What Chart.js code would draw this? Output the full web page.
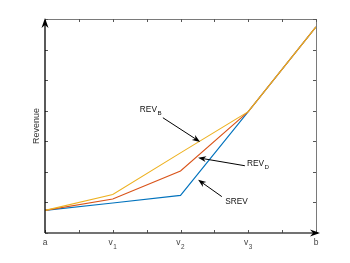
<!DOCTYPE html>
<html>
<head>
<meta charset="utf-8">
<script src="https://cdn.jsdelivr.net/npm/chart.js@4/dist/chart.umd.min.js"></script>
<style>
html,body{margin:0;padding:0;background:#fff;}
#wrap{width:350px;height:263px;position:relative;}
</style>
</head>
<body>
<div id="wrap"><canvas id="c" width="350" height="263"></canvas></div>
<script>
// categories (x positions) and tick labels
const xPositions = [0, 1, 2, 3, 4];
const xTickLabels = ['a', 'v1', 'v2', 'v3', 'b'];
// series values
const srev = [0.74, 0.98, 1.23, 3.97, 6.74];
const revD = [0.74, 1.11, 2.03, 3.97, 6.74];
const revB = [0.74, 1.26, 2.62, 3.97, 6.74];
const yTitle = 'Revenue';
// annotation labels (text, subscript) and anchors in data units
const annLabels = [['REV', 'B'], ['REV', 'D'], ['SREV', '']];
const annText = [[1.40, 4.03], [2.98, 2.26], [2.66, 1.02]];
const annTail = [[1.74, 3.77], [2.95, 2.20], [2.61, 1.19]];
const annHead = [[2.29, 2.98], [2.26, 2.46], [2.26, 1.74]];

const toPts = arr => xPositions.map((x, i) => ({x: x, y: arr[i]}));
const FONT = '"Liberation Sans", Arial, Helvetica, sans-serif';

function arrowHead(ctx, tx, ty, ang, len, wid) {
  ctx.save();
  ctx.translate(tx, ty);
  ctx.rotate(ang);
  ctx.beginPath();
  ctx.moveTo(0, 0);
  ctx.lineTo(-len, -wid / 2);
  ctx.lineTo(-len * 0.7, 0);
  ctx.lineTo(-len, wid / 2);
  ctx.closePath();
  ctx.fill();
  ctx.restore();
}

function drawSubText(ctx, base, sub, x, y, size, align, color) {
  ctx.save();
  ctx.fillStyle = color;
  ctx.textBaseline = 'middle';
  ctx.textAlign = 'left';
  ctx.font = size + 'px ' + FONT;
  const wb = ctx.measureText(base).width;
  ctx.font = (size * 0.75) + 'px ' + FONT;
  const ws = sub ? ctx.measureText(sub).width + 0.5 : 0;
  let x0 = x;
  if (align === 'center') x0 = x - (wb + ws) / 2;
  ctx.font = size + 'px ' + FONT;
  ctx.fillText(base, x0, y);
  if (sub) {
    ctx.font = (size * 0.75) + 'px ' + FONT;
    ctx.fillText(sub, x0 + wb + 0.5, y + size * 0.45);
  }
  ctx.restore();
}

const axesPlugin = {
  id: 'axesPlugin',
  beforeDatasetsDraw(chart) {
    const ctx = chart.ctx;
    const xs = chart.scales.x, ys = chart.scales.y;
    const a = chart.chartArea;
    ctx.save();
    // box top/right
    ctx.strokeStyle = '#7a7a7a';
    ctx.lineWidth = 1;
    ctx.beginPath();
    ctx.moveTo(a.left, a.top + 0.5);
    ctx.lineTo(a.right + 0.5, a.top + 0.5);
    ctx.lineTo(a.right + 0.5, a.bottom);
    ctx.stroke();
    // ticks
    ctx.strokeStyle = '#555';
    ctx.beginPath();
    for (let v = xs.min; v <= xs.max + 1e-9; v += 0.5) {
      const px = Math.round(xs.getPixelForValue(v)) + 0.5;
      ctx.moveTo(px, a.bottom); ctx.lineTo(px, a.bottom - 3);
      ctx.moveTo(px, a.top); ctx.lineTo(px, a.top + 3);
    }
    for (let v = ys.min; v <= ys.max + 1e-9; v += 1) {
      const py = Math.round(ys.getPixelForValue(v)) + 0.5;
      ctx.moveTo(a.left, py); ctx.lineTo(a.left + 3, py);
      ctx.moveTo(a.right, py); ctx.lineTo(a.right - 3, py);
    }
    ctx.stroke();
    ctx.restore();
  },
  afterDatasetsDraw(chart) {
    const ctx = chart.ctx;
    const xs = chart.scales.x, ys = chart.scales.y;
    const a = chart.chartArea;
    ctx.save();
    // bottom axis
    ctx.strokeStyle = '#444';
    ctx.lineWidth = 1.3;
    ctx.beginPath();
    ctx.moveTo(a.left, a.bottom);
    ctx.lineTo(a.right + 2, a.bottom);
    ctx.stroke();
    // left axis
    ctx.strokeStyle = '#000';
    ctx.lineWidth = 1.3;
    ctx.beginPath();
    ctx.moveTo(a.left, a.bottom);
    ctx.lineTo(a.left, a.top + 2);
    ctx.stroke();
    ctx.fillStyle = '#000';
    arrowHead(ctx, a.right + 4, a.bottom, 0, 10, 7);
    arrowHead(ctx, a.left, a.top - 1, -Math.PI / 2, 10, 7);

    // x tick labels
    xPositions.forEach((v, i) => {
      const lab = xTickLabels[i];
      const base = lab.charAt(0), sub = lab.slice(1);
      drawSubText(ctx, base, sub, xs.getPixelForValue(v), a.bottom + 10, 8.5, 'center', '#444');
    });

    // y title
    ctx.save();
    ctx.translate(a.left - 8, (a.top + a.bottom) / 2);
    ctx.rotate(-Math.PI / 2);
    ctx.fillStyle = '#333';
    ctx.font = '9px ' + FONT;
    ctx.textAlign = 'center';
    ctx.textBaseline = 'middle';
    ctx.fillText(yTitle, 0, 0);
    ctx.restore();

    // annotations
    annLabels.forEach((lb, i) => {
      const tx = xs.getPixelForValue(annTail[i][0]), ty = ys.getPixelForValue(annTail[i][1]);
      const hx = xs.getPixelForValue(annHead[i][0]), hy = ys.getPixelForValue(annHead[i][1]);
      const ang = Math.atan2(hy - ty, hx - tx);
      ctx.strokeStyle = '#000';
      ctx.lineWidth = 1;
      ctx.beginPath();
      ctx.moveTo(tx, ty);
      ctx.lineTo(hx - Math.cos(ang) * 5, hy - Math.sin(ang) * 5);
      ctx.stroke();
      ctx.fillStyle = '#000';
      arrowHead(ctx, hx, hy, ang, 8, 6);
      drawSubText(ctx, lb[0], lb[1], xs.getPixelForValue(annText[i][0]), ys.getPixelForValue(annText[i][1]), 8.3, 'left', '#111');
    });
    ctx.restore();
  }
};

new Chart(document.getElementById('c'), {
  type: 'line',
  data: {
    datasets: [
      {label: 'SREV', data: toPts(srev), borderColor: '#0072BD', borderWidth: 1.1, pointRadius: 0, tension: 0, fill: false, order: 2},
      {label: 'REV_D', data: toPts(revD), borderColor: '#D95319', borderWidth: 1.1, pointRadius: 0, tension: 0, fill: false, order: 1},
      {label: 'REV_B', data: toPts(revB), borderColor: '#EDB120', borderWidth: 1.1, pointRadius: 0, tension: 0, fill: false, order: 0}
    ]
  },
  options: {
    responsive: false,
    animation: false,
    events: [],
    layout: {padding: {top: 19, right: 34, left: 0, bottom: 0}},
    plugins: {legend: {display: false}, tooltip: {enabled: false}},
    scales: {
      x: {
        type: 'linear', min: 0, max: 4,
        ticks: {display: false, stepSize: 0.5},
        grid: {display: false}, border: {display: false},
        afterFit(s) { s.height = 30; }
      },
      y: {
        type: 'linear', min: 0, max: 7,
        ticks: {display: false, stepSize: 1},
        grid: {display: false}, border: {display: false},
        afterFit(s) { s.width = 45; }
      }
    }
  },
  plugins: [axesPlugin]
});
</script>
</body>
</html>
